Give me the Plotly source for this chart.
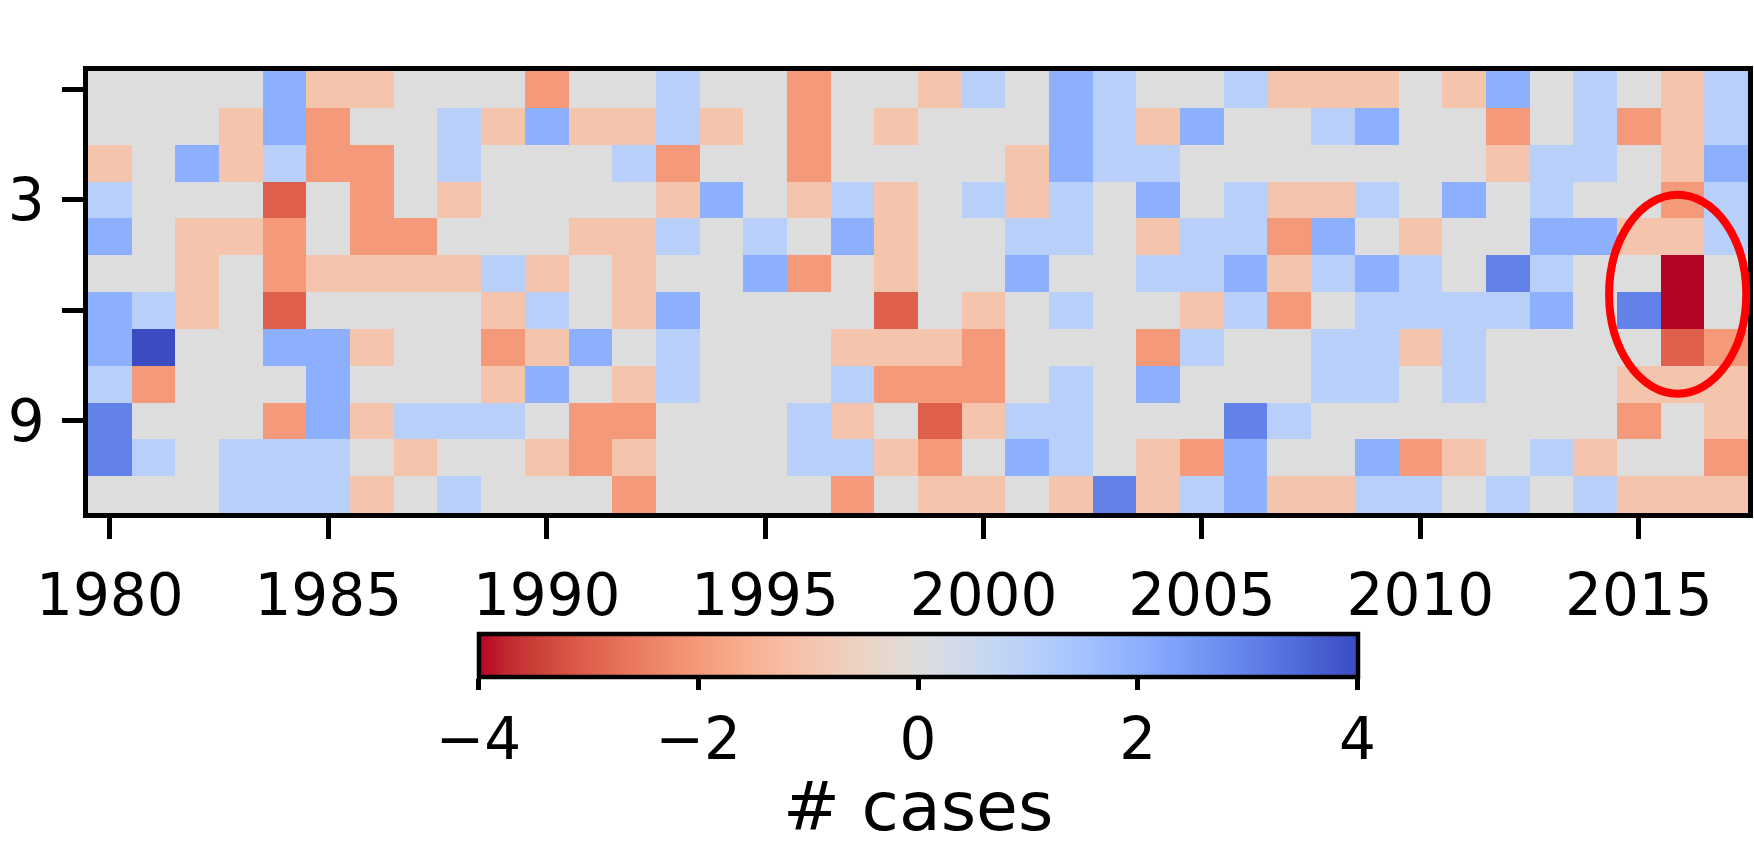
import plotly.graph_objects as go

# ---------------- data ----------------
years = list(range(1980, 2018))           # 38 columns
rows = list(range(12))                     # 12 rows (top to bottom)
ytick_vals = [0, 3, 6, 9]
ytick_text = ["", "3", "", "9"]
xtick_vals = [1980, 1985, 1990, 1995, 2000, 2005, 2010, 2015]
cbar_ticks = [-4, -2, 0, 2, 4]
cbar_title = "# cases"

row0 = [0, 0, 0, 0, 2, -1, -1, 0, 0, 0, -2, 0, 0, 1, 0, 0, -2, 0, 0, -1, 1, 0, 2, 1, 0, 0, 1, -1, -1, -1, 0, -1, 2, 0, 1, 0, -1, 1]
row1 = [0, 0, 0, -1, 2, -2, 0, 0, 1, -1, 2, -1, -1, 1, -1, 0, -2, 0, -1, 0, 0, 0, 2, 1, -1, 2, 0, 0, 1, 2, 0, 0, -2, 0, 1, -2, -1, 1]
row2 = [-1, 0, 2, -1, 1, -2, -2, 0, 1, 0, 0, 0, 1, -2, 0, 0, -2, 0, 0, 0, 0, -1, 2, 1, 1, 0, 0, 0, 0, 0, 0, 0, -1, 1, 1, 0, -1, 2]
row3 = [1, 0, 0, 0, -3, 0, -2, 0, -1, 0, 0, 0, 0, -1, 2, 0, -1, 1, -1, 0, 1, -1, 1, 0, 2, 0, 1, -1, -1, 1, 0, 2, 0, 1, 0, 0, -2, 1]
row4 = [2, 0, -1, -1, -2, 0, -2, -2, 0, 0, 0, -1, -1, 1, 0, 1, 0, 2, -1, 0, 0, 1, 1, 0, -1, 1, 1, -2, 2, 0, -1, 0, 0, 2, 2, -1, -1, 1]
row5 = [0, 0, -1, 0, -2, -1, -1, -1, -1, 1, -1, 0, -1, 0, 0, 2, -2, 0, -1, 0, 0, 2, 0, 0, 1, 1, 2, -1, 1, 2, 1, 0, 3, 1, 0, 0, -4, 0]
row6 = [2, 1, -1, 0, -3, 0, 0, 0, 0, -1, 1, 0, -1, 2, 0, 0, 0, 0, -3, 0, -1, 0, 1, 0, 0, -1, 1, -2, 0, 1, 1, 1, 1, 2, 0, 3, -4, 0]
row7 = [2, 4, 0, 0, 2, 2, -1, 0, 0, -2, -1, 2, 0, 1, 0, 0, 0, -1, -1, -1, -2, 0, 0, 0, -2, 1, 0, 0, 1, 1, -1, 1, 0, 0, 0, 0, -3, -2]
row8 = [1, -2, 0, 0, 0, 2, 0, 0, 0, -1, 2, 0, -1, 1, 0, 0, 0, 1, -2, -2, -2, 0, 1, 0, 2, 0, 0, 0, 1, 1, 0, 1, 0, 0, 0, -1, -1, -1]
row9 = [3, 0, 0, 0, -2, 2, -1, 1, 1, 1, 0, -2, -2, 0, 0, 0, 1, -1, 0, -3, -1, 1, 1, 0, 0, 0, 3, 1, 0, 0, 0, 0, 0, 0, 0, -2, 0, -1]
row10 = [3, 1, 0, 1, 1, 1, 0, -1, 0, 0, -1, -2, -1, 0, 0, 0, 1, 1, -1, -2, 0, 2, 1, 0, -1, -2, 2, 0, 0, 2, -2, -1, 0, 1, -1, 0, 0, -2]
row11 = [0, 0, 0, 1, 1, 1, -1, 0, 1, 0, 0, 0, -2, 0, 0, 0, 0, -2, 0, -1, -1, 0, -1, 3, -1, 1, 2, -1, -1, 1, 1, 0, 1, 0, 1, -1, -1, -1]

z = [row0, row1, row2, row3, row4, row5, row6, row7, row8, row9, row10, row11]

# matplotlib "coolwarm" (Moreland table), reversed: -4 -> red, +4 -> blue
coolwarm = [
    (59, 76, 192), (68, 90, 204), (77, 104, 215), (87, 117, 225), (98, 130, 234),
    (108, 142, 241), (119, 154, 247), (130, 165, 251), (141, 176, 254), (152, 185, 255),
    (163, 194, 255), (174, 201, 253), (184, 208, 249), (194, 213, 244), (204, 217, 238),
    (213, 219, 230), (221, 221, 221), (229, 216, 209), (236, 211, 197), (241, 204, 185),
    (245, 196, 173), (247, 187, 160), (247, 177, 148), (247, 166, 135), (244, 154, 123),
    (241, 141, 111), (236, 127, 99), (229, 112, 88), (222, 96, 77), (213, 80, 66),
    (203, 62, 56), (192, 40, 47), (180, 4, 38),
]
n = len(coolwarm) - 1
colorscale = [[i / n, "rgb(%d,%d,%d)" % coolwarm[n - i]] for i in range(n + 1)]

FONT = "DejaVu Sans"
FS = 58
LW = 4.5
TL = 21
W, H = 1754, 848
M_L, M_R, M_T, M_B = 88, 6, 71, 335

fig = go.Figure(
    go.Heatmap(
        z=z, x=years, y=rows,
        zmin=-4, zmax=4,
        colorscale=colorscale,
        xgap=0, ygap=0,
        colorbar=dict(
            orientation="h",
            x=0.5, xanchor="center",
            y=-0.274, yanchor="top",
            len=879 / 1660, lenmode="fraction",
            thickness=43, thicknessmode="pixels",
            xpad=0, ypad=0,
            outlinewidth=LW, outlinecolor="black",
            ticks="outside", ticklen=11, tickwidth=LW, tickcolor="black",
            tickvals=cbar_ticks,
            tickfont=dict(family=FONT, size=FS, color="black"),
        ),
    )
)

# colorbar title placed as an annotation flush with the bottom of the figure
fig.add_annotation(
    text=cbar_title, xref="paper", yref="paper",
    x=0.5, xanchor="center",
    y=-M_B / (H - M_T - M_B), yanchor="bottom", yshift=1,
    showarrow=False, borderpad=0,
    font=dict(family=FONT, size=68, color="black"),
)

# red ellipse highlighting the 2016 anomaly (data units -> paper units)
x_lo, x_hi = years[0] - 0.5, years[-1] + 0.5
y_lo, y_hi = -0.5, rows[-1] + 0.5
cx, cy, hw, hh = 2015.89, 5.56, 1.57, 2.7


def px(v):
    return (v - x_lo) / (x_hi - x_lo)


def py(v):
    return 1 - (v - y_lo) / (y_hi - y_lo)


fig.add_shape(
    type="circle", xref="paper", yref="paper",
    x0=px(cx - hw), x1=px(cx + hw), y0=py(cy + hh), y1=py(cy - hh),
    line=dict(color="red", width=8), fillcolor="rgba(0,0,0,0)", layer="above",
)

fig.update_layout(
    width=W, height=H,
    margin=dict(l=M_L, r=M_R, t=M_T, b=M_B, pad=0, autoexpand=False),
    paper_bgcolor="white", plot_bgcolor="white",
    font=dict(family=FONT, size=FS, color="black"),
    xaxis=dict(
        range=[x_lo, x_hi], tickvals=xtick_vals,
        ticks="outside", ticklen=TL, tickwidth=LW, tickcolor="black",
        ticklabelstandoff=7, automargin=False,
        showline=True, linewidth=LW, linecolor="black", mirror=True,
        showgrid=False, zeroline=False,
        tickfont=dict(family=FONT, size=FS, color="black"),
    ),
    yaxis=dict(
        range=[y_hi, y_lo], tickvals=ytick_vals, ticktext=ytick_text,
        ticks="outside", ticklen=TL, tickwidth=LW, tickcolor="black",
        ticklabelstandoff=6, automargin=False,
        showline=True, linewidth=LW, linecolor="black", mirror=True,
        showgrid=False, zeroline=False,
        tickfont=dict(family=FONT, size=FS, color="black"),
    ),
)

fig.write_html("out.html")
